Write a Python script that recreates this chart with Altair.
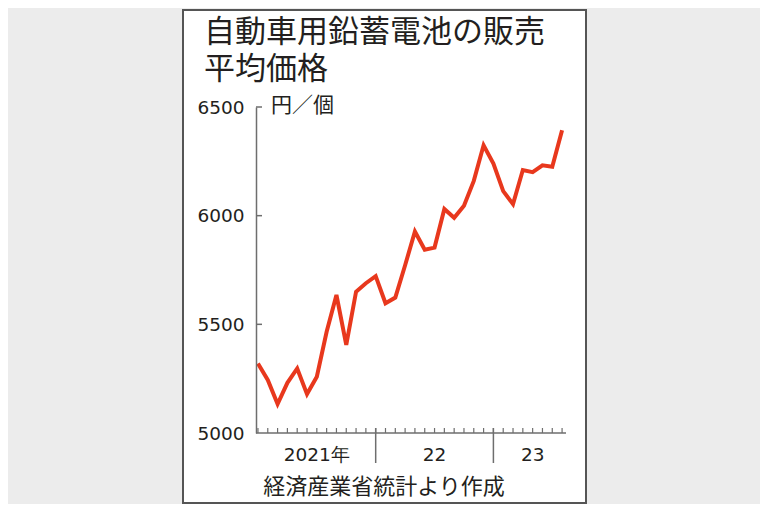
import altair as alt
import pandas as pd

# Monthly average selling price of automotive lead-acid batteries (yen / unit)
months = [f"{y}-{m:02d}" for y in (2021, 2022, 2023) for m in range(1, 13)][:32]
prices = [5320, 5244, 5133, 5231, 5297, 5179, 5259, 5466, 5635, 5405, 5650, 5689,
          5722, 5597, 5623, 5772, 5927, 5843, 5853, 6031, 5990, 6046, 6160, 6324,
          6240, 6113, 6053, 6210, 6200, 6232, 6225, 6393]
y_ticks = [5000, 5500, 6000, 6500]
year_labels = ["2021年", "22", "23"]
year_label_pos = [6, 18, 28]
year_breaks = [12, 24]

title_lines = ["自動車用鉛蓄電池の販売", "平均価格"]
unit_text = "円／個"
source_text = "経済産業省統計より作成"

W, H = 310, 326
AX = "#6e6e6e"
INK = "#231f20"
RED = "#e8381d"
JP = "Noto Sans CJK JP"
NUM = "DejaVu Sans"

df = pd.DataFrame({"i": list(range(len(prices))), "month": months, "price": prices})
xs = alt.Scale(domain=[-0.2, 31.4], nice=False, zero=False)
ys = alt.Scale(domain=[5000, 6500], nice=False, zero=False)

one = pd.DataFrame({"a": [0]})

box = alt.Chart(one).mark_rect(
    fill="white", stroke="#555555", strokeWidth=2
).encode(x=alt.value(-73), x2=alt.value(330), y=alt.value(-97), y2=alt.value(396))

yaxis = alt.Axis(values=y_ticks, format="d", ticks=False, grid=False, domainColor=AX,
                 domainWidth=1.5, labelFont=NUM, labelFontSize=18.5, labelColor=INK,
                 labelPadding=12, title=None, zindex=2)

line = alt.Chart(df).mark_line(color=RED, strokeWidth=4, strokeJoin="miter").encode(
    x=alt.X("i:Q", scale=xs, axis=None),
    y=alt.Y("price:Q", scale=ys, axis=yaxis),
)

ytick_df = pd.DataFrame({"v": y_ticks[1:]})
yticks = alt.Chart(ytick_df).mark_rule(color=AX, strokeWidth=1.5).encode(
    y=alt.Y("v:Q", scale=ys, axis=yaxis), x=alt.value(0), x2=alt.value(6))

baseline = alt.Chart(one).mark_rule(color=AX, strokeWidth=1.5).encode(
    x=alt.value(0), x2=alt.value(W), y=alt.value(H))

minor = alt.Chart(df).mark_rule(color=AX, strokeWidth=1.2).encode(
    x=alt.X("i:Q", scale=xs, axis=None), y=alt.value(H - 5), y2=alt.value(H))

major = alt.Chart(pd.DataFrame({"b": year_breaks})).mark_rule(color=AX, strokeWidth=1.5).encode(
    x=alt.X("b:Q", scale=xs, axis=None), y=alt.value(H - 5), y2=alt.value(H + 30))

xlab = alt.Chart(pd.DataFrame({"p": year_label_pos, "t": year_labels})).mark_text(
    font=NUM, fontSize=18.5, color=INK, baseline="middle", align="center"
).encode(x=alt.X("p:Q", scale=xs, axis=None), y=alt.value(H + 22), text="t:N")

title1 = alt.Chart(pd.DataFrame({"t": [title_lines[0]]})).mark_text(
    font=JP, fontSize=31, color=INK, align="left", baseline="middle"
).encode(x=alt.value(-52), y=alt.value(-74), text="t:N")

title2 = alt.Chart(pd.DataFrame({"t": [title_lines[1]]})).mark_text(
    font=JP, fontSize=31, color=INK, align="left", baseline="middle"
).encode(x=alt.value(-52), y=alt.value(-37), text="t:N")

unit = alt.Chart(pd.DataFrame({"t": [unit_text]})).mark_text(
    font=JP, fontSize=21, color=INK, align="left", baseline="middle"
).encode(x=alt.value(15), y=alt.value(-1), text="t:N")

source = alt.Chart(pd.DataFrame({"t": [source_text]})).mark_text(
    font=JP, fontSize=22, color=INK, align="center", baseline="middle"
).encode(x=alt.value(128), y=alt.value(380), text="t:N")

chart = alt.layer(box, line, yticks, baseline, minor, major, xlab, title1, title2, unit, source).properties(
    width=W, height=H,
    background="#ececec",
    padding={"left": 248, "top": 99, "right": 194, "bottom": 71},
    autosize=alt.AutoSizeParams(type="none"),
).configure_view(stroke=None)

chart.save("out.html", embed_options={"renderer": "svg", "actions": False})
